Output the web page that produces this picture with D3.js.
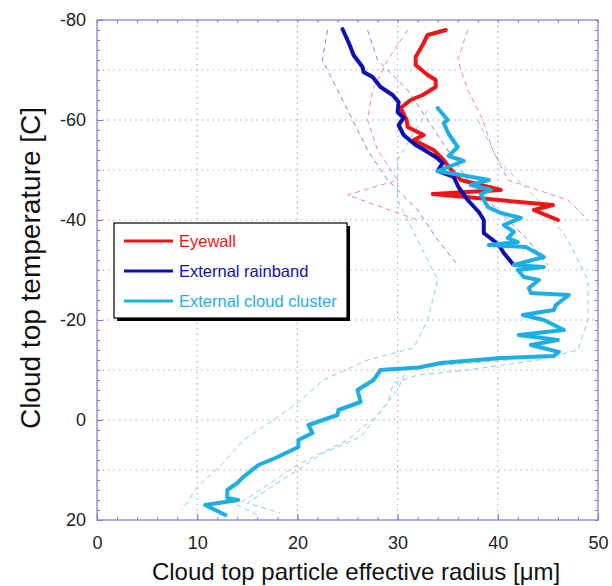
<!DOCTYPE html>
<html>
<head>
<meta charset="utf-8">
<script src="https://cdn.jsdelivr.net/npm/d3@7"></script>
<style>
  body { margin: 0; background: #fff; }
  svg { font-family: "Liberation Sans", Arial, sans-serif; }
</style>
</head>
<body>
<script>
// chart values: [radius um, temperature C]
var eyewall = [[34.8,-78],[33.0,-77],[32.5,-75],[31.8,-72.6],[31.8,-71],[33.0,-69],[33.8,-68],[33.8,-66.6],
  [32.5,-65],[31.3,-64],[30.3,-62.4],[30.9,-60],[31.0,-58.6],[32.6,-57],[31.6,-56],[33.6,-54],[34.6,-52],
  [35.1,-50.6],[36.3,-48],[40.3,-46],[33.5,-45.2],[45.5,-43],[43.6,-42],[46,-40]];

var rainband = [[24.5,-78.2],[25,-76],[25.3,-74.6],[25.6,-73],[26.5,-70.6],[26.6,-69.6],[27.5,-68.6],
  [28.3,-66.6],[29.5,-65],[30.1,-63.6],[30,-61.6],[30.6,-60.4],[30.1,-59],[30.6,-57],[31.8,-55],[32.5,-54.2],
  [33.8,-52.6],[34.5,-51.4],[34,-49.8],[35.6,-48.6],[36.1,-46.5],[37,-44],[38.1,-41.6],[38.6,-40],
  [38.6,-37.4],[39.5,-36],[40.1,-35],[40.6,-33.4],[41.5,-31.2]];

var cluster = [[34,-62.4],[35,-60],[34.6,-59.4],[35.1,-57.2],[36,-54.6],[35.1,-52.8],[36.6,-51.8],[34,-49.8],
  [36.3,-49],[39.1,-48],[37.3,-47],[39.3,-46],[38.3,-45.2],[39,-42.6],[40.3,-41.4],[42.3,-40.4],[40.6,-39],
  [41.6,-37.6],[41,-36.4],[42,-35.6],[39.1,-35],[42.8,-34.6],[44.6,-32.6],[41.6,-31],[44.6,-30.6],[42,-30],
  [42.6,-28.6],[44.1,-28],[43.1,-26.4],[43.3,-25.4],[47.1,-25],[45.8,-23],[45.6,-22],[42.5,-21],[44.6,-20],
  [46.6,-18],[42.1,-17],[46,-16],[43.3,-15],[46.1,-13.6],[45.6,-12.8],[40.3,-12.4],[34.3,-11.4],[32.1,-10.5],
  [28.3,-10],[27.6,-8],[26,-6],[26.3,-3.6],[24.1,-2],[24,-1],[21.1,1],[21.5,2.6],[20.1,4],[20.1,5.4],
  [17.8,7.6],[16.1,9],[14.6,11.4],[14,12.6],[13,14],[13,15.6],[14.1,16],[10.8,17],[12.8,19]];

// thin dashed spread lines
var eyewallLo = [[31,-78],[29,-72],[27.5,-66],[27,-60],[28,-54],[30,-48],[25,-45],[32,-40]];
var eyewallHi = [[37,-78],[36,-72],[37,-66],[38.5,-60],[39.5,-54],[41,-48],[47,-44],[49,-40]];
var rainbandLo = [[23,-78],[22.5,-72],[24,-66],[25.5,-60],[27,-54],[29,-48],[32,-42],[34,-36],[36,-31]];
var rainbandHi = [[27,-78],[28,-72],[31,-66],[33,-60],[35,-54],[37,-48],[40,-42],[43,-36],[45,-31]];
var clusterLo = [[33,-62],[30,-52],[30,-44],[32,-36],[34,-28],[33,-20],[31.6,-14.4],[27,-12],[22.6,-8],
  [20,-3.4],[17.6,0],[14.6,4],[12.6,8.6],[10,13.4],[8.5,18]];
var clusterHi = [[38,-60],[40,-52],[44,-44],[47,-36],[49,-28],[49,-20],[48,-14],[44,-12],[37,-10],[32,-9],
  [29.6,-7.4],[29,-3.4],[26.3,3.4],[22.6,6.6],[18,12.6],[15,16.6],[18.3,18.6]];
var clusterMid = [[41,-12],[35,-11],[31,-10.6],[30,-6],[28,-1],[25,4],[20,9],[17,13],[14,17],[16,19]];

var xTicks = [0, 10, 20, 30, 40, 50];
var yTicks = [-80, -60, -40, -20, 0, 20];
var legendNames = ["Eyewall", "External rainband", "External cloud cluster"];

var width = 612, height = 586;
var plotLeft = 97, plotRight = 598, plotTop = 20, plotBottom = 520;

var svg = d3.select("body").append("svg")
  .attr("width", width)
  .attr("height", height);

var x = d3.scaleLinear().domain([0, 50]).range([plotLeft, plotRight]);
var y = d3.scaleLinear().domain([-80, 20]).range([plotTop, plotBottom]);

var axisColor = "#7a7acc";

// dotted grid every 10
var grid = svg.append("g");
grid.selectAll(".gx").data(d3.range(10, 50, 10)).enter().append("line")
  .attr("x1", function(d) { return x(d); }).attr("x2", function(d) { return x(d); })
  .attr("y1", plotTop).attr("y2", plotBottom);
grid.selectAll(".gy").data(d3.range(-70, 20, 10)).enter().append("line")
  .attr("x1", plotLeft).attr("x2", plotRight)
  .attr("y1", function(d) { return y(d); }).attr("y2", function(d) { return y(d); });
grid.selectAll("line")
  .attr("stroke", "#a8a8d8")
  .attr("stroke-width", 1.2)
  .attr("stroke-dasharray", "1.5,4");

// lines
var line = d3.line()
  .x(function(d) { return x(d[0]); })
  .y(function(d) { return y(d[1]); });

var dashed = [
  [eyewallLo, "#f08a8a"], [eyewallHi, "#f08a8a"],
  [rainbandLo, "#8484d8"], [rainbandHi, "#8484d8"],
  [clusterLo, "#86cde8"], [clusterHi, "#86cde8"], [clusterMid, "#86cde8"]
];
dashed.forEach(function(s) {
  svg.append("path").datum(s[0])
    .attr("d", line)
    .attr("fill", "none")
    .attr("stroke", s[1])
    .attr("stroke-width", 1)
    .attr("stroke-dasharray", "5,4");
});

var series = [
  [eyewall, "#f01414"],
  [rainband, "#0c10b4"],
  [cluster, "#1eaee6"]
];
series.forEach(function(s) {
  svg.append("path").datum(s[0])
    .attr("d", line)
    .attr("fill", "none")
    .attr("stroke", s[1])
    .attr("stroke-width", 4)
    .attr("stroke-linejoin", "round")
    .attr("stroke-linecap", "round");
});

// frame
svg.append("rect")
  .attr("x", plotLeft).attr("y", plotTop)
  .attr("width", plotRight - plotLeft).attr("height", plotBottom - plotTop)
  .attr("fill", "none").attr("stroke", axisColor).attr("stroke-width", 1.2);

// axes, ticks pointing inside
function styleAxis(g) {
  g.select(".domain").remove();
  g.selectAll(".tick line").attr("stroke", axisColor);
  g.selectAll("text").attr("fill", "#222").attr("font-size", 18);
}
var plain = function(d) { return String(d); };
svg.append("g").attr("transform", "translate(0," + plotBottom + ")")
  .call(d3.axisBottom(x).tickValues(xTicks).tickSize(-6).tickPadding(16).tickFormat(plain))
  .call(styleAxis);
svg.append("g").attr("transform", "translate(" + plotLeft + ",0)")
  .call(d3.axisLeft(y).tickValues(yTicks).tickSize(-6).tickPadding(11).tickFormat(plain))
  .call(styleAxis);
svg.append("g").attr("transform", "translate(0," + plotBottom + ")")
  .call(d3.axisBottom(x).tickValues(d3.range(0, 51, 2)).tickSize(-3).tickFormat(""))
  .call(styleAxis);
svg.append("g").attr("transform", "translate(" + plotLeft + ",0)")
  .call(d3.axisLeft(y).tickValues(d3.range(-80, 21, 2)).tickSize(-3).tickFormat(""))
  .call(styleAxis);
svg.append("g").attr("transform", "translate(0," + plotTop + ")")
  .call(d3.axisTop(x).tickValues(d3.range(0, 51, 2)).tickSize(-3).tickFormat(""))
  .call(styleAxis);
svg.append("g").attr("transform", "translate(" + plotRight + ",0)")
  .call(d3.axisRight(y).tickValues(d3.range(-80, 21, 2)).tickSize(-3).tickFormat(""))
  .call(styleAxis);

// axis titles
svg.append("text")
  .attr("x", 356).attr("y", 580)
  .attr("text-anchor", "middle")
  .attr("font-size", 24).attr("fill", "#111")
  .text("Cloud top particle effective radius [\u03bcm]");
svg.append("text")
  .attr("transform", "translate(40,268) rotate(-90)")
  .attr("text-anchor", "middle")
  .attr("font-size", 28).attr("fill", "#111")
  .text("Cloud top temperature [C]");

// legend box with shadow
var lg = svg.append("g").attr("transform", "translate(114,223)");
lg.append("rect").attr("x", 3).attr("y", 3).attr("width", 233).attr("height", 95).attr("fill", "#000");
lg.append("rect").attr("x", 0).attr("y", 0).attr("width", 233).attr("height", 95)
  .attr("fill", "#fff").attr("stroke", "#000").attr("stroke-width", 1.2);
legendNames.forEach(function(name, i) {
  var yy = 18 + i * 30;
  lg.append("line")
    .attr("x1", 10).attr("x2", 59).attr("y1", yy).attr("y2", yy)
    .attr("stroke", series[i][1]).attr("stroke-width", 3);
  lg.append("text")
    .attr("x", 65).attr("y", yy + 6)
    .attr("font-size", 16.5).attr("fill", series[i][1])
    .text(name);
});
</script>
</body>
</html>
